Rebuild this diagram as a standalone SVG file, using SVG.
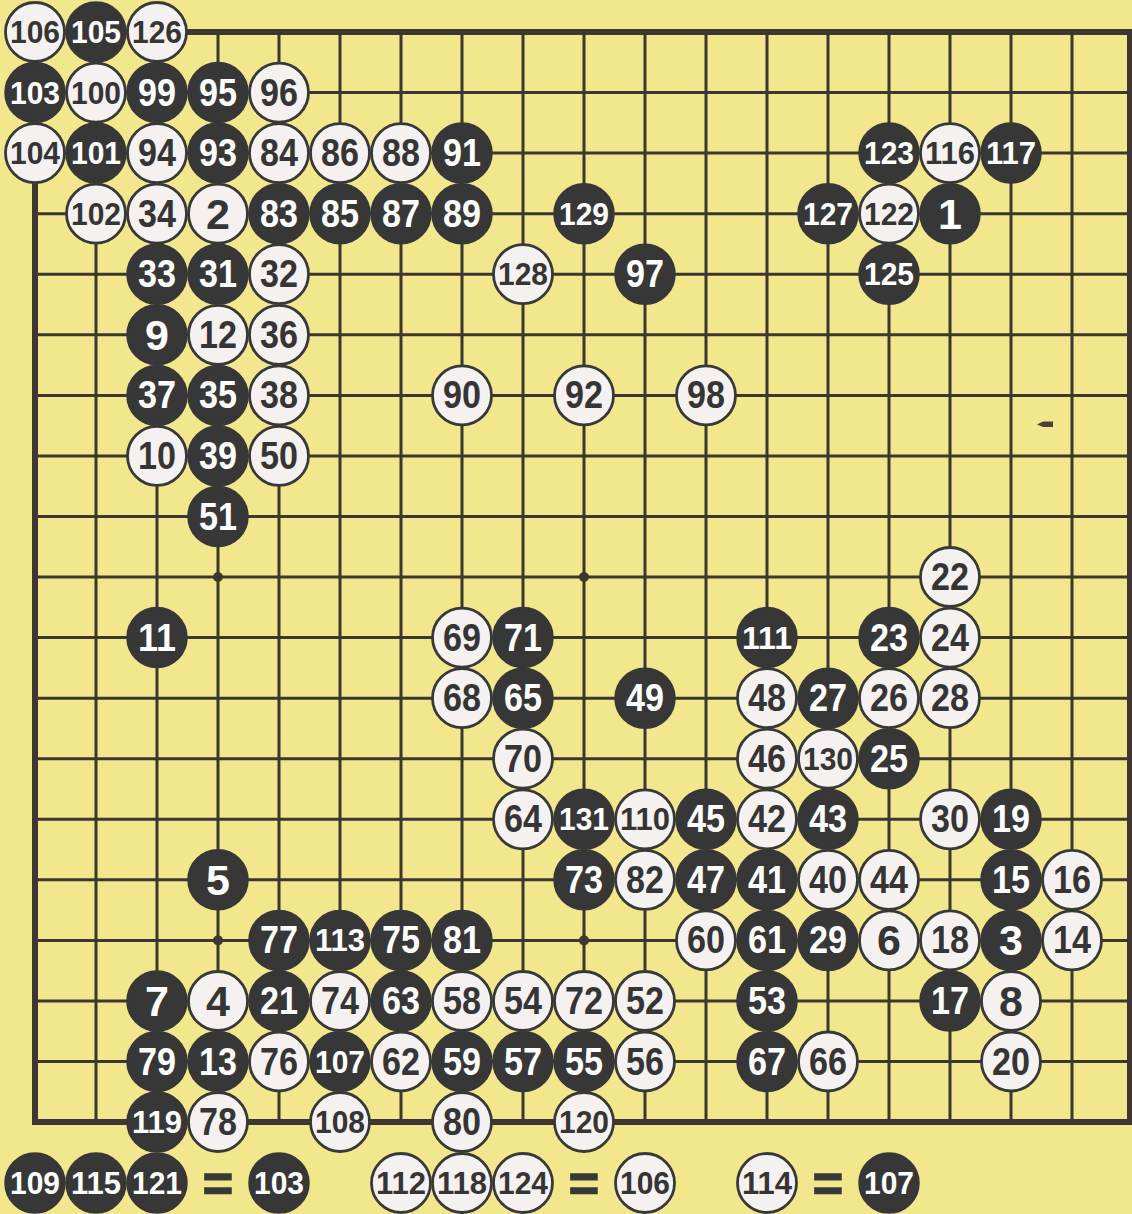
<svg xmlns="http://www.w3.org/2000/svg" width="1132" height="1214" viewBox="0 0 1132 1214">
<style>
.bg{fill:#f2e78c}
.ln{stroke:#3d3631;stroke-width:3;fill:none}
.bd{stroke:#3d3631;stroke-width:6;fill:none}
.hs{fill:#3d3631}
.w circle{fill:#f5f1f0;stroke:#383838;stroke-width:2.8}
.b circle{fill:#373737;stroke:#373737;stroke-width:2.5}
text{font-family:"Liberation Sans",Arial,sans-serif;font-weight:bold;text-anchor:middle;dominant-baseline:central}
.w text{fill:#353535}
.b text{fill:#ffffff}
.d1{font-size:43px}
.d2{font-size:38px}
.d3{font-size:32px}
.eq{font-size:52px;fill:#383838;stroke:#383838;stroke-width:1.5}
</style>
<rect class="bg" x="0" y="0" width="1132" height="1214"/>
<g id="board">
<path class="ln" d="M96 32V1122M157 32V1122M218 32V1122M279 32V1122M340 32V1122M401 32V1122M462 32V1122M523 32V1122M584 32V1122M645 32V1122M706 32V1122M767 32V1122M828 32V1122M889 32V1122M950 32V1122M1011 32V1122M1072 32V1122"/>
<path class="ln" d="M35 92.6H1130M35 153.1H1130M35 213.7H1130M35 274.2H1130M35 334.8H1130M35 395.4H1130M35 455.9H1130M35 516.5H1130M35 577H1130M35 637.6H1130M35 698.2H1130M35 758.7H1130M35 819.3H1130M35 879.8H1130M35 940.4H1130M35 1001H1130M35 1061.5H1130"/>
<rect class="bd" x="35" y="32" width="1095" height="1090"/>
<circle class="hs" cx="218" cy="577" r="5"/><circle class="hs" cx="584" cy="577" r="5"/><circle class="hs" cx="950" cy="577" r="5"/>
<circle class="hs" cx="218" cy="940.4" r="5"/><circle class="hs" cx="584" cy="940.4" r="5"/><circle class="hs" cx="950" cy="940.4" r="5"/>
<circle class="hs" cx="218" cy="213.7" r="5"/><circle class="hs" cx="584" cy="213.7" r="5"/><circle class="hs" cx="950" cy="213.7" r="5"/>
<path d="M1037 424.5L1043 421.5H1053V427H1043Z" fill="#4a4038"/>
</g>
<g id="stones">
<g id="s106" class="w"><circle cx="35" cy="32" r="29.5"/><text class="d3" x="35" y="32" textLength="50" lengthAdjust="spacingAndGlyphs">106</text></g>
<g id="s105" class="b"><circle cx="96" cy="32" r="29.5"/><text class="d3" x="96" y="32" textLength="50" lengthAdjust="spacingAndGlyphs">105</text></g>
<g id="s126" class="w"><circle cx="157" cy="32" r="29.5"/><text class="d3" x="157" y="32" textLength="50" lengthAdjust="spacingAndGlyphs">126</text></g>

<g id="s103" class="b"><circle cx="35" cy="92.6" r="29.5"/><text class="d3" x="35" y="92.6" textLength="50" lengthAdjust="spacingAndGlyphs">103</text></g>
<g id="s100" class="w"><circle cx="96" cy="92.6" r="29.5"/><text class="d3" x="96" y="92.6" textLength="50" lengthAdjust="spacingAndGlyphs">100</text></g>
<g id="s99" class="b"><circle cx="157" cy="92.6" r="29.5"/><text class="d2" x="157" y="92.6" textLength="38" lengthAdjust="spacingAndGlyphs">99</text></g>
<g id="s95" class="b"><circle cx="218" cy="92.6" r="29.5"/><text class="d2" x="218" y="92.6" textLength="38" lengthAdjust="spacingAndGlyphs">95</text></g>
<g id="s96" class="w"><circle cx="279" cy="92.6" r="29.5"/><text class="d2" x="279" y="92.6" textLength="38" lengthAdjust="spacingAndGlyphs">96</text></g>

<g id="s104" class="w"><circle cx="35" cy="153.1" r="29.5"/><text class="d3" x="35" y="153.1" textLength="50" lengthAdjust="spacingAndGlyphs">104</text></g>
<g id="s101" class="b"><circle cx="96" cy="153.1" r="29.5"/><text class="d3" x="96" y="153.1" textLength="50" lengthAdjust="spacingAndGlyphs">101</text></g>
<g id="s94" class="w"><circle cx="157" cy="153.1" r="29.5"/><text class="d2" x="157" y="153.1" textLength="38" lengthAdjust="spacingAndGlyphs">94</text></g>
<g id="s93" class="b"><circle cx="218" cy="153.1" r="29.5"/><text class="d2" x="218" y="153.1" textLength="38" lengthAdjust="spacingAndGlyphs">93</text></g>
<g id="s84" class="w"><circle cx="279" cy="153.1" r="29.5"/><text class="d2" x="279" y="153.1" textLength="38" lengthAdjust="spacingAndGlyphs">84</text></g>
<g id="s86" class="w"><circle cx="340" cy="153.1" r="29.5"/><text class="d2" x="340" y="153.1" textLength="38" lengthAdjust="spacingAndGlyphs">86</text></g>
<g id="s88" class="w"><circle cx="401" cy="153.1" r="29.5"/><text class="d2" x="401" y="153.1" textLength="38" lengthAdjust="spacingAndGlyphs">88</text></g>
<g id="s91" class="b"><circle cx="462" cy="153.1" r="29.5"/><text class="d2" x="462" y="153.1" textLength="38" lengthAdjust="spacingAndGlyphs">91</text></g>
<g id="s123" class="b"><circle cx="889" cy="153.1" r="29.5"/><text class="d3" x="889" y="153.1" textLength="50" lengthAdjust="spacingAndGlyphs">123</text></g>
<g id="s116" class="w"><circle cx="950" cy="153.1" r="29.5"/><text class="d3" x="950" y="153.1" textLength="50" lengthAdjust="spacingAndGlyphs">116</text></g>
<g id="s117" class="b"><circle cx="1011" cy="153.1" r="29.5"/><text class="d3" x="1011" y="153.1" textLength="50" lengthAdjust="spacingAndGlyphs">117</text></g>

<g id="s102" class="w"><circle cx="96" cy="213.7" r="29.5"/><text class="d3" x="96" y="213.7" textLength="50" lengthAdjust="spacingAndGlyphs">102</text></g>
<g id="s34" class="w"><circle cx="157" cy="213.7" r="29.5"/><text class="d2" x="157" y="213.7" textLength="38" lengthAdjust="spacingAndGlyphs">34</text></g>
<g id="s2" class="w"><circle cx="218" cy="213.7" r="29.5"/><text class="d1" x="218" y="213.7">2</text></g>
<g id="s83" class="b"><circle cx="279" cy="213.7" r="29.5"/><text class="d2" x="279" y="213.7" textLength="38" lengthAdjust="spacingAndGlyphs">83</text></g>
<g id="s85" class="b"><circle cx="340" cy="213.7" r="29.5"/><text class="d2" x="340" y="213.7" textLength="38" lengthAdjust="spacingAndGlyphs">85</text></g>
<g id="s87" class="b"><circle cx="401" cy="213.7" r="29.5"/><text class="d2" x="401" y="213.7" textLength="38" lengthAdjust="spacingAndGlyphs">87</text></g>
<g id="s89" class="b"><circle cx="462" cy="213.7" r="29.5"/><text class="d2" x="462" y="213.7" textLength="38" lengthAdjust="spacingAndGlyphs">89</text></g>
<g id="s129" class="b"><circle cx="584" cy="213.7" r="29.5"/><text class="d3" x="584" y="213.7" textLength="50" lengthAdjust="spacingAndGlyphs">129</text></g>
<g id="s127" class="b"><circle cx="828" cy="213.7" r="29.5"/><text class="d3" x="828" y="213.7" textLength="50" lengthAdjust="spacingAndGlyphs">127</text></g>
<g id="s122" class="w"><circle cx="889" cy="213.7" r="29.5"/><text class="d3" x="889" y="213.7" textLength="50" lengthAdjust="spacingAndGlyphs">122</text></g>
<g id="s1" class="b"><circle cx="950" cy="213.7" r="29.5"/><text class="d1" x="950" y="213.7">1</text></g>

<g id="s33" class="b"><circle cx="157" cy="274.2" r="29.5"/><text class="d2" x="157" y="274.2" textLength="38" lengthAdjust="spacingAndGlyphs">33</text></g>
<g id="s31" class="b"><circle cx="218" cy="274.2" r="29.5"/><text class="d2" x="218" y="274.2" textLength="38" lengthAdjust="spacingAndGlyphs">31</text></g>
<g id="s32" class="w"><circle cx="279" cy="274.2" r="29.5"/><text class="d2" x="279" y="274.2" textLength="38" lengthAdjust="spacingAndGlyphs">32</text></g>
<g id="s128" class="w"><circle cx="523" cy="274.2" r="29.5"/><text class="d3" x="523" y="274.2" textLength="50" lengthAdjust="spacingAndGlyphs">128</text></g>
<g id="s97" class="b"><circle cx="645" cy="274.2" r="29.5"/><text class="d2" x="645" y="274.2" textLength="38" lengthAdjust="spacingAndGlyphs">97</text></g>
<g id="s125" class="b"><circle cx="889" cy="274.2" r="29.5"/><text class="d3" x="889" y="274.2" textLength="50" lengthAdjust="spacingAndGlyphs">125</text></g>

<g id="s9" class="b"><circle cx="157" cy="334.8" r="29.5"/><text class="d1" x="157" y="334.8">9</text></g>
<g id="s12" class="w"><circle cx="218" cy="334.8" r="29.5"/><text class="d2" x="218" y="334.8" textLength="38" lengthAdjust="spacingAndGlyphs">12</text></g>
<g id="s36" class="w"><circle cx="279" cy="334.8" r="29.5"/><text class="d2" x="279" y="334.8" textLength="38" lengthAdjust="spacingAndGlyphs">36</text></g>

<g id="s37" class="b"><circle cx="157" cy="395.4" r="29.5"/><text class="d2" x="157" y="395.4" textLength="38" lengthAdjust="spacingAndGlyphs">37</text></g>
<g id="s35" class="b"><circle cx="218" cy="395.4" r="29.5"/><text class="d2" x="218" y="395.4" textLength="38" lengthAdjust="spacingAndGlyphs">35</text></g>
<g id="s38" class="w"><circle cx="279" cy="395.4" r="29.5"/><text class="d2" x="279" y="395.4" textLength="38" lengthAdjust="spacingAndGlyphs">38</text></g>
<g id="s90" class="w"><circle cx="462" cy="395.4" r="29.5"/><text class="d2" x="462" y="395.4" textLength="38" lengthAdjust="spacingAndGlyphs">90</text></g>
<g id="s92" class="w"><circle cx="584" cy="395.4" r="29.5"/><text class="d2" x="584" y="395.4" textLength="38" lengthAdjust="spacingAndGlyphs">92</text></g>
<g id="s98" class="w"><circle cx="706" cy="395.4" r="29.5"/><text class="d2" x="706" y="395.4" textLength="38" lengthAdjust="spacingAndGlyphs">98</text></g>

<g id="s10" class="w"><circle cx="157" cy="455.9" r="29.5"/><text class="d2" x="157" y="455.9" textLength="38" lengthAdjust="spacingAndGlyphs">10</text></g>
<g id="s39" class="b"><circle cx="218" cy="455.9" r="29.5"/><text class="d2" x="218" y="455.9" textLength="38" lengthAdjust="spacingAndGlyphs">39</text></g>
<g id="s50" class="w"><circle cx="279" cy="455.9" r="29.5"/><text class="d2" x="279" y="455.9" textLength="38" lengthAdjust="spacingAndGlyphs">50</text></g>

<g id="s51" class="b"><circle cx="218" cy="516.5" r="29.5"/><text class="d2" x="218" y="516.5" textLength="38" lengthAdjust="spacingAndGlyphs">51</text></g>

<g id="s22" class="w"><circle cx="950" cy="577" r="29.5"/><text class="d2" x="950" y="577" textLength="38" lengthAdjust="spacingAndGlyphs">22</text></g>

<g id="s11" class="b"><circle cx="157" cy="637.6" r="29.5"/><text class="d2" x="157" y="637.6" textLength="38" lengthAdjust="spacingAndGlyphs">11</text></g>
<g id="s69" class="w"><circle cx="462" cy="637.6" r="29.5"/><text class="d2" x="462" y="637.6" textLength="38" lengthAdjust="spacingAndGlyphs">69</text></g>
<g id="s71" class="b"><circle cx="523" cy="637.6" r="29.5"/><text class="d2" x="523" y="637.6" textLength="38" lengthAdjust="spacingAndGlyphs">71</text></g>
<g id="s111" class="b"><circle cx="767" cy="637.6" r="29.5"/><text class="d3" x="767" y="637.6" textLength="50" lengthAdjust="spacingAndGlyphs">111</text></g>
<g id="s23" class="b"><circle cx="889" cy="637.6" r="29.5"/><text class="d2" x="889" y="637.6" textLength="38" lengthAdjust="spacingAndGlyphs">23</text></g>
<g id="s24" class="w"><circle cx="950" cy="637.6" r="29.5"/><text class="d2" x="950" y="637.6" textLength="38" lengthAdjust="spacingAndGlyphs">24</text></g>

<g id="s68" class="w"><circle cx="462" cy="698.2" r="29.5"/><text class="d2" x="462" y="698.2" textLength="38" lengthAdjust="spacingAndGlyphs">68</text></g>
<g id="s65" class="b"><circle cx="523" cy="698.2" r="29.5"/><text class="d2" x="523" y="698.2" textLength="38" lengthAdjust="spacingAndGlyphs">65</text></g>
<g id="s49" class="b"><circle cx="645" cy="698.2" r="29.5"/><text class="d2" x="645" y="698.2" textLength="38" lengthAdjust="spacingAndGlyphs">49</text></g>
<g id="s48" class="w"><circle cx="767" cy="698.2" r="29.5"/><text class="d2" x="767" y="698.2" textLength="38" lengthAdjust="spacingAndGlyphs">48</text></g>
<g id="s27" class="b"><circle cx="828" cy="698.2" r="29.5"/><text class="d2" x="828" y="698.2" textLength="38" lengthAdjust="spacingAndGlyphs">27</text></g>
<g id="s26" class="w"><circle cx="889" cy="698.2" r="29.5"/><text class="d2" x="889" y="698.2" textLength="38" lengthAdjust="spacingAndGlyphs">26</text></g>
<g id="s28" class="w"><circle cx="950" cy="698.2" r="29.5"/><text class="d2" x="950" y="698.2" textLength="38" lengthAdjust="spacingAndGlyphs">28</text></g>

<g id="s70" class="w"><circle cx="523" cy="758.7" r="29.5"/><text class="d2" x="523" y="758.7" textLength="38" lengthAdjust="spacingAndGlyphs">70</text></g>
<g id="s46" class="w"><circle cx="767" cy="758.7" r="29.5"/><text class="d2" x="767" y="758.7" textLength="38" lengthAdjust="spacingAndGlyphs">46</text></g>
<g id="s130" class="w"><circle cx="828" cy="758.7" r="29.5"/><text class="d3" x="828" y="758.7" textLength="50" lengthAdjust="spacingAndGlyphs">130</text></g>
<g id="s25" class="b"><circle cx="889" cy="758.7" r="29.5"/><text class="d2" x="889" y="758.7" textLength="38" lengthAdjust="spacingAndGlyphs">25</text></g>

<g id="s64" class="w"><circle cx="523" cy="819.3" r="29.5"/><text class="d2" x="523" y="819.3" textLength="38" lengthAdjust="spacingAndGlyphs">64</text></g>
<g id="s131" class="b"><circle cx="584" cy="819.3" r="29.5"/><text class="d3" x="584" y="819.3" textLength="50" lengthAdjust="spacingAndGlyphs">131</text></g>
<g id="s110" class="w"><circle cx="645" cy="819.3" r="29.5"/><text class="d3" x="645" y="819.3" textLength="50" lengthAdjust="spacingAndGlyphs">110</text></g>
<g id="s45" class="b"><circle cx="706" cy="819.3" r="29.5"/><text class="d2" x="706" y="819.3" textLength="38" lengthAdjust="spacingAndGlyphs">45</text></g>
<g id="s42" class="w"><circle cx="767" cy="819.3" r="29.5"/><text class="d2" x="767" y="819.3" textLength="38" lengthAdjust="spacingAndGlyphs">42</text></g>
<g id="s43" class="b"><circle cx="828" cy="819.3" r="29.5"/><text class="d2" x="828" y="819.3" textLength="38" lengthAdjust="spacingAndGlyphs">43</text></g>
<g id="s30" class="w"><circle cx="950" cy="819.3" r="29.5"/><text class="d2" x="950" y="819.3" textLength="38" lengthAdjust="spacingAndGlyphs">30</text></g>
<g id="s19" class="b"><circle cx="1011" cy="819.3" r="29.5"/><text class="d2" x="1011" y="819.3" textLength="38" lengthAdjust="spacingAndGlyphs">19</text></g>

<g id="s5" class="b"><circle cx="218" cy="879.8" r="29.5"/><text class="d1" x="218" y="879.8">5</text></g>
<g id="s73" class="b"><circle cx="584" cy="879.8" r="29.5"/><text class="d2" x="584" y="879.8" textLength="38" lengthAdjust="spacingAndGlyphs">73</text></g>
<g id="s82" class="w"><circle cx="645" cy="879.8" r="29.5"/><text class="d2" x="645" y="879.8" textLength="38" lengthAdjust="spacingAndGlyphs">82</text></g>
<g id="s47" class="b"><circle cx="706" cy="879.8" r="29.5"/><text class="d2" x="706" y="879.8" textLength="38" lengthAdjust="spacingAndGlyphs">47</text></g>
<g id="s41" class="b"><circle cx="767" cy="879.8" r="29.5"/><text class="d2" x="767" y="879.8" textLength="38" lengthAdjust="spacingAndGlyphs">41</text></g>
<g id="s40" class="w"><circle cx="828" cy="879.8" r="29.5"/><text class="d2" x="828" y="879.8" textLength="38" lengthAdjust="spacingAndGlyphs">40</text></g>
<g id="s44" class="w"><circle cx="889" cy="879.8" r="29.5"/><text class="d2" x="889" y="879.8" textLength="38" lengthAdjust="spacingAndGlyphs">44</text></g>
<g id="s15" class="b"><circle cx="1011" cy="879.8" r="29.5"/><text class="d2" x="1011" y="879.8" textLength="38" lengthAdjust="spacingAndGlyphs">15</text></g>
<g id="s16" class="w"><circle cx="1072" cy="879.8" r="29.5"/><text class="d2" x="1072" y="879.8" textLength="38" lengthAdjust="spacingAndGlyphs">16</text></g>

<g id="s77" class="b"><circle cx="279" cy="940.4" r="29.5"/><text class="d2" x="279" y="940.4" textLength="38" lengthAdjust="spacingAndGlyphs">77</text></g>
<g id="s113" class="b"><circle cx="340" cy="940.4" r="29.5"/><text class="d3" x="340" y="940.4" textLength="50" lengthAdjust="spacingAndGlyphs">113</text></g>
<g id="s75" class="b"><circle cx="401" cy="940.4" r="29.5"/><text class="d2" x="401" y="940.4" textLength="38" lengthAdjust="spacingAndGlyphs">75</text></g>
<g id="s81" class="b"><circle cx="462" cy="940.4" r="29.5"/><text class="d2" x="462" y="940.4" textLength="38" lengthAdjust="spacingAndGlyphs">81</text></g>
<g id="s60" class="w"><circle cx="706" cy="940.4" r="29.5"/><text class="d2" x="706" y="940.4" textLength="38" lengthAdjust="spacingAndGlyphs">60</text></g>
<g id="s61" class="b"><circle cx="767" cy="940.4" r="29.5"/><text class="d2" x="767" y="940.4" textLength="38" lengthAdjust="spacingAndGlyphs">61</text></g>
<g id="s29" class="b"><circle cx="828" cy="940.4" r="29.5"/><text class="d2" x="828" y="940.4" textLength="38" lengthAdjust="spacingAndGlyphs">29</text></g>
<g id="s6" class="w"><circle cx="889" cy="940.4" r="29.5"/><text class="d1" x="889" y="940.4">6</text></g>
<g id="s18" class="w"><circle cx="950" cy="940.4" r="29.5"/><text class="d2" x="950" y="940.4" textLength="38" lengthAdjust="spacingAndGlyphs">18</text></g>
<g id="s3" class="b"><circle cx="1011" cy="940.4" r="29.5"/><text class="d1" x="1011" y="940.4">3</text></g>
<g id="s14" class="w"><circle cx="1072" cy="940.4" r="29.5"/><text class="d2" x="1072" y="940.4" textLength="38" lengthAdjust="spacingAndGlyphs">14</text></g>

<g id="s7" class="b"><circle cx="157" cy="1001" r="29.5"/><text class="d1" x="157" y="1001">7</text></g>
<g id="s4" class="w"><circle cx="218" cy="1001" r="29.5"/><text class="d1" x="218" y="1001">4</text></g>
<g id="s21" class="b"><circle cx="279" cy="1001" r="29.5"/><text class="d2" x="279" y="1001" textLength="38" lengthAdjust="spacingAndGlyphs">21</text></g>
<g id="s74" class="w"><circle cx="340" cy="1001" r="29.5"/><text class="d2" x="340" y="1001" textLength="38" lengthAdjust="spacingAndGlyphs">74</text></g>
<g id="s63" class="b"><circle cx="401" cy="1001" r="29.5"/><text class="d2" x="401" y="1001" textLength="38" lengthAdjust="spacingAndGlyphs">63</text></g>
<g id="s58" class="w"><circle cx="462" cy="1001" r="29.5"/><text class="d2" x="462" y="1001" textLength="38" lengthAdjust="spacingAndGlyphs">58</text></g>
<g id="s54" class="w"><circle cx="523" cy="1001" r="29.5"/><text class="d2" x="523" y="1001" textLength="38" lengthAdjust="spacingAndGlyphs">54</text></g>
<g id="s72" class="w"><circle cx="584" cy="1001" r="29.5"/><text class="d2" x="584" y="1001" textLength="38" lengthAdjust="spacingAndGlyphs">72</text></g>
<g id="s52" class="w"><circle cx="645" cy="1001" r="29.5"/><text class="d2" x="645" y="1001" textLength="38" lengthAdjust="spacingAndGlyphs">52</text></g>
<g id="s53" class="b"><circle cx="767" cy="1001" r="29.5"/><text class="d2" x="767" y="1001" textLength="38" lengthAdjust="spacingAndGlyphs">53</text></g>
<g id="s17" class="b"><circle cx="950" cy="1001" r="29.5"/><text class="d2" x="950" y="1001" textLength="38" lengthAdjust="spacingAndGlyphs">17</text></g>
<g id="s8" class="w"><circle cx="1011" cy="1001" r="29.5"/><text class="d1" x="1011" y="1001">8</text></g>

<g id="s79" class="b"><circle cx="157" cy="1061.5" r="29.5"/><text class="d2" x="157" y="1061.5" textLength="38" lengthAdjust="spacingAndGlyphs">79</text></g>
<g id="s13" class="b"><circle cx="218" cy="1061.5" r="29.5"/><text class="d2" x="218" y="1061.5" textLength="38" lengthAdjust="spacingAndGlyphs">13</text></g>
<g id="s76" class="w"><circle cx="279" cy="1061.5" r="29.5"/><text class="d2" x="279" y="1061.5" textLength="38" lengthAdjust="spacingAndGlyphs">76</text></g>
<g id="s107" class="b"><circle cx="340" cy="1061.5" r="29.5"/><text class="d3" x="340" y="1061.5" textLength="50" lengthAdjust="spacingAndGlyphs">107</text></g>
<g id="s62" class="w"><circle cx="401" cy="1061.5" r="29.5"/><text class="d2" x="401" y="1061.5" textLength="38" lengthAdjust="spacingAndGlyphs">62</text></g>
<g id="s59" class="b"><circle cx="462" cy="1061.5" r="29.5"/><text class="d2" x="462" y="1061.5" textLength="38" lengthAdjust="spacingAndGlyphs">59</text></g>
<g id="s57" class="b"><circle cx="523" cy="1061.5" r="29.5"/><text class="d2" x="523" y="1061.5" textLength="38" lengthAdjust="spacingAndGlyphs">57</text></g>
<g id="s55" class="b"><circle cx="584" cy="1061.5" r="29.5"/><text class="d2" x="584" y="1061.5" textLength="38" lengthAdjust="spacingAndGlyphs">55</text></g>
<g id="s56" class="w"><circle cx="645" cy="1061.5" r="29.5"/><text class="d2" x="645" y="1061.5" textLength="38" lengthAdjust="spacingAndGlyphs">56</text></g>
<g id="s67" class="b"><circle cx="767" cy="1061.5" r="29.5"/><text class="d2" x="767" y="1061.5" textLength="38" lengthAdjust="spacingAndGlyphs">67</text></g>
<g id="s66" class="w"><circle cx="828" cy="1061.5" r="29.5"/><text class="d2" x="828" y="1061.5" textLength="38" lengthAdjust="spacingAndGlyphs">66</text></g>
<g id="s20" class="w"><circle cx="1011" cy="1061.5" r="29.5"/><text class="d2" x="1011" y="1061.5" textLength="38" lengthAdjust="spacingAndGlyphs">20</text></g>

<g id="s119" class="b"><circle cx="157" cy="1122" r="29.5"/><text class="d3" x="157" y="1122" textLength="50" lengthAdjust="spacingAndGlyphs">119</text></g>
<g id="s78" class="w"><circle cx="218" cy="1122" r="29.5"/><text class="d2" x="218" y="1122" textLength="38" lengthAdjust="spacingAndGlyphs">78</text></g>
<g id="s108" class="w"><circle cx="340" cy="1122" r="29.5"/><text class="d3" x="340" y="1122" textLength="50" lengthAdjust="spacingAndGlyphs">108</text></g>
<g id="s80" class="w"><circle cx="462" cy="1122" r="29.5"/><text class="d2" x="462" y="1122" textLength="38" lengthAdjust="spacingAndGlyphs">80</text></g>
<g id="s120" class="w"><circle cx="584" cy="1122" r="29.5"/><text class="d3" x="584" y="1122" textLength="50" lengthAdjust="spacingAndGlyphs">120</text></g>
</g>
<g id="legend">
<g id="l109" class="b"><circle cx="35" cy="1183" r="29.5"/><text class="d3" x="35" y="1183" textLength="50" lengthAdjust="spacingAndGlyphs">109</text></g>
<g id="l115" class="b"><circle cx="96" cy="1183" r="29.5"/><text class="d3" x="96" y="1183" textLength="50" lengthAdjust="spacingAndGlyphs">115</text></g>
<g id="l121" class="b"><circle cx="157" cy="1183" r="29.5"/><text class="d3" x="157" y="1183" textLength="50" lengthAdjust="spacingAndGlyphs">121</text></g>
<text class="eq" x="218" y="1183">=</text>
<g id="l103" class="b"><circle cx="279" cy="1183" r="29.5"/><text class="d3" x="279" y="1183" textLength="50" lengthAdjust="spacingAndGlyphs">103</text></g>
<g id="l112" class="w"><circle cx="401" cy="1183" r="29.5"/><text class="d3" x="401" y="1183" textLength="50" lengthAdjust="spacingAndGlyphs">112</text></g>
<g id="l118" class="w"><circle cx="462" cy="1183" r="29.5"/><text class="d3" x="462" y="1183" textLength="50" lengthAdjust="spacingAndGlyphs">118</text></g>
<g id="l124" class="w"><circle cx="523" cy="1183" r="29.5"/><text class="d3" x="523" y="1183" textLength="50" lengthAdjust="spacingAndGlyphs">124</text></g>
<text class="eq" x="584" y="1183">=</text>
<g id="l106" class="w"><circle cx="645" cy="1183" r="29.5"/><text class="d3" x="645" y="1183" textLength="50" lengthAdjust="spacingAndGlyphs">106</text></g>
<g id="l114" class="w"><circle cx="767" cy="1183" r="29.5"/><text class="d3" x="767" y="1183" textLength="50" lengthAdjust="spacingAndGlyphs">114</text></g>
<text class="eq" x="828" y="1183">=</text>
<g id="l107" class="b"><circle cx="889" cy="1183" r="29.5"/><text class="d3" x="889" y="1183" textLength="50" lengthAdjust="spacingAndGlyphs">107</text></g>
</g>
</svg>
